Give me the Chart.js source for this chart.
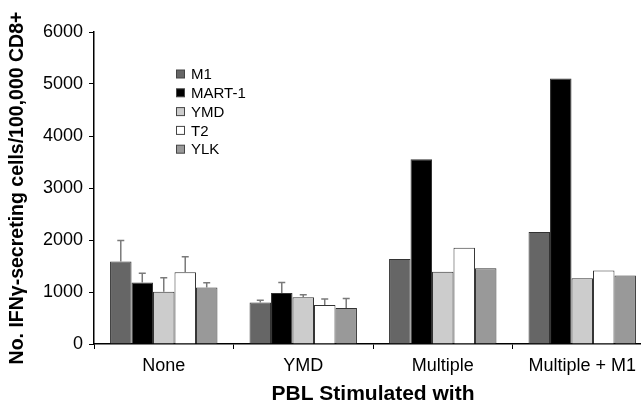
<!DOCTYPE html>
<html>
<head>
<meta charset="utf-8">
<script src="https://cdn.jsdelivr.net/npm/chart.js@4.4.1/dist/chart.umd.min.js"></script>
<style>
  html, body { margin: 0; padding: 0; background: #fff; overflow: hidden; }
  #wrap { position: relative; width: 652px; height: 404px; }
</style>
</head>
<body>
<div id="wrap"><canvas id="chart"></canvas></div>
<script>
const categories = ["None", "YMD", "Multiple", "Multiple + M1"];
const seriesNames = ["M1", "MART-1", "YMD", "T2", "YLK"];
const seriesColors = ["#666666", "#000000", "#cccccc", "#ffffff", "#999999"];

const m1 = [1585, 800, 1635, 2155];
const mart1 = [1185, 980, 3555, 5105];
const ymd = [1005, 900, 1390, 1265];
const t2 = [1380, 750, 1850, 1415];
const ylk = [1085, 690, 1455, 1315];

// upper error (SD) per series, null = no bar
const m1Err = [405, 40, null, null];
const mart1Err = [175, 205, null, null];
const ymdErr = [270, 45, null, null];
const t2Err = [300, 115, null, null];
const ylkErr = [95, 185, null, null];

const yTicks = [0, 1000, 2000, 3000, 4000, 5000, 6000];

const values = [m1, mart1, ymd, t2, ylk];
const errors = [m1Err, mart1Err, ymdErr, t2Err, ylkErr];

const errorBars = {
  id: "errorBars",
  afterDatasetsDraw(chart) {
    const ctx = chart.ctx;
    const y = chart.scales.y;
    ctx.save();
    ctx.strokeStyle = "#7a7a7a";
    ctx.lineWidth = 1.5;
    chart.data.datasets.forEach((ds, i) => {
      const meta = chart.getDatasetMeta(i);
      meta.data.forEach((bar, j) => {
        const e = errors[i][j];
        if (e == null) return;
        const top = y.getPixelForValue(ds.data[j] + e);
        const base = y.getPixelForValue(ds.data[j]);
        ctx.beginPath();
        ctx.moveTo(bar.x, base);
        ctx.lineTo(bar.x, top);
        ctx.moveTo(bar.x - 3.5, top);
        ctx.lineTo(bar.x + 3.5, top);
        ctx.stroke();
      });
    });
    ctx.restore();
  }
};

const boxLegend = {
  id: "boxLegend",
  afterDraw(chart) {
    const ctx = chart.ctx;
    ctx.save();
    ctx.font = "15px 'Liberation Sans', Arial, sans-serif";
    ctx.textBaseline = "middle";
    chart.data.datasets.forEach((ds, i) => {
      const yy = 74 + i * 18.8;
      ctx.fillStyle = ds.backgroundColor;
      ctx.fillRect(176.5, yy - 4, 8, 8);
      ctx.strokeStyle = "#444";
      ctx.lineWidth = 1;
      ctx.strokeRect(176.5, yy - 4, 8, 8);
      ctx.fillStyle = "#000";
      ctx.fillText(ds.label, 191, yy + 1);
    });
    ctx.restore();
  }
};

new Chart(document.getElementById("chart"), {
  type: "bar",
  data: {
    labels: categories,
    datasets: seriesNames.map((name, i) => ({
      label: name,
      data: values[i],
      backgroundColor: seriesColors[i],
      borderColor: "#333333",
      borderWidth: 1,
      barPercentage: 1,
      categoryPercentage: 0.77
    }))
  },
  options: {
    responsive: true,
    maintainAspectRatio: false,
    animation: false,
    layout: { padding: { top: 32, left: 0, right: 0, bottom: 0 } },
    plugins: { legend: { display: false }, tooltip: { enabled: false } },
    scales: {
      x: {
        afterFit(scale) { scale.height = 60; },
        border: { color: "#000", width: 1.5 },
        grid: { display: true, drawOnChartArea: false, offset: true, tickLength: 5, color: "#000", lineWidth: 1 },
        ticks: { color: "#000", font: { family: "'Liberation Sans', Arial", size: 18 }, padding: 6 },
        title: {
          display: true,
          text: "PBL Stimulated with",
          color: "#000",
          font: { family: "'Liberation Sans', Arial", size: 21, weight: "bold" },
          padding: { top: 0, bottom: -3 }
        }
      },
      y: {
        min: 0,
        max: 6000,
        afterFit(scale) { scale.width = 94; },
        afterBuildTicks(scale) { scale.ticks = yTicks.map(v => ({ value: v })); },
        border: { color: "#000", width: 1.5 },
        grid: { display: true, drawOnChartArea: false, tickLength: 5, color: "#000", lineWidth: 1 },
        ticks: {
          color: "#000",
          font: { family: "'Liberation Sans', Arial", size: 18 },
          padding: 6,
          callback: v => String(v)
        },
        title: {
          display: true,
          text: "No. IFN\u03b3-secreting cells/100,000 CD8+",
          color: "#000",
          font: { family: "'Liberation Sans', Arial", size: 19.5, weight: "bold" },
          padding: { top: 6, bottom: 0 }
        }
      }
    }
  },
  plugins: [errorBars, boxLegend]
});
</script>
</body>
</html>
